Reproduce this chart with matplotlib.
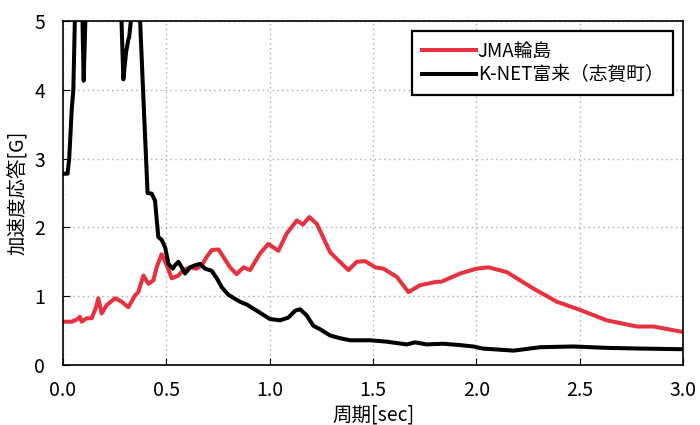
import matplotlib
matplotlib.use('Agg')
import matplotlib.pyplot as plt

plt.rcParams['font.family'] = ['Noto Sans CJK JP', 'DejaVu Sans']

# JMA輪島 (red)
red_x = [0.0, 0.042, 0.066, 0.082, 0.09, 0.115, 0.139, 0.16, 0.171, 0.187, 0.211,
         0.252, 0.284, 0.316, 0.348, 0.364, 0.389, 0.413, 0.437, 0.453, 0.477,
         0.502, 0.526, 0.558, 0.582, 0.615, 0.647, 0.671, 0.695, 0.719, 0.752,
         0.776, 0.808, 0.84, 0.873, 0.905, 0.953, 0.993, 1.042, 1.082, 1.131,
         1.16, 1.192, 1.228, 1.292, 1.332, 1.381, 1.421, 1.461, 1.51, 1.55,
         1.615, 1.671, 1.727, 1.808, 1.83, 1.921, 2.0, 2.058, 2.147, 2.276,
         2.389, 2.502, 2.63, 2.776, 2.856, 3.0]
red_y = [0.63, 0.63, 0.66, 0.70, 0.63, 0.68, 0.68, 0.84, 0.97, 0.75, 0.87,
         0.97, 0.92, 0.84, 1.01, 1.06, 1.30, 1.18, 1.23, 1.42, 1.61,
         1.45, 1.26, 1.30, 1.38, 1.42, 1.40, 1.45, 1.57, 1.67, 1.68,
         1.57, 1.42, 1.32, 1.42, 1.38, 1.62, 1.76, 1.66, 1.91, 2.10,
         2.04, 2.15, 2.05, 1.64, 1.52, 1.38, 1.50, 1.51, 1.42, 1.40,
         1.28, 1.06, 1.16, 1.21, 1.21, 1.33, 1.40, 1.42, 1.35, 1.11,
         0.92, 0.80, 0.65, 0.56, 0.56, 0.48]

# K-NET富来（志賀町） (black)
blk_x = [0.0, 0.022, 0.03, 0.042, 0.05, 0.058, 0.075, 0.093, 0.10, 0.11, 0.13,
         0.2, 0.27, 0.283, 0.292, 0.305, 0.316, 0.32, 0.326, 0.335, 0.36,
         0.373, 0.389, 0.409, 0.429, 0.445, 0.461, 0.477, 0.494, 0.51, 0.531,
         0.542, 0.558, 0.574, 0.59, 0.615, 0.639, 0.663, 0.687, 0.719, 0.744,
         0.768, 0.8, 0.856, 0.889, 0.953, 1.0, 1.05, 1.09, 1.123, 1.147,
         1.179, 1.211, 1.244, 1.292, 1.34, 1.389, 1.486, 1.566, 1.663, 1.703,
         1.76, 1.84, 1.921, 1.985, 2.03, 2.18, 2.31, 2.47, 2.63, 2.79, 3.0]
blk_y = [2.78, 2.78, 3.0, 3.7, 4.0, 5.1, 5.6, 5.2, 4.13, 5.2, 5.8,
         5.9, 5.6, 5.0, 4.15, 4.54, 4.73, 4.76, 4.93, 5.3, 5.4,
         5.0, 3.87, 2.5, 2.49, 2.39, 1.86, 1.82, 1.71, 1.47, 1.40,
         1.45, 1.50, 1.42, 1.33, 1.42, 1.45, 1.47, 1.40, 1.37, 1.26,
         1.13, 1.02, 0.92, 0.88, 0.76, 0.67, 0.65, 0.69, 0.79, 0.81,
         0.72, 0.57, 0.52, 0.43, 0.39, 0.36, 0.36, 0.34, 0.30, 0.33,
         0.30, 0.31, 0.29, 0.27, 0.24, 0.21, 0.26, 0.27, 0.25, 0.24, 0.23]

x_ticks = [0.0, 0.5, 1.0, 1.5, 2.0, 2.5, 3.0]
x_labels = ['0.0', '0.5', '1.0', '1.5', '2.0', '2.5', '3.0']
y_ticks = [0, 1, 2, 3, 4, 5]


def main():
    fig = plt.figure(figsize=(7, 4.25), dpi=100)
    ax = fig.add_axes([0.09, 0.141, 0.886, 0.81])
    ax.plot(red_x, red_y, color='#e8313f', lw=2.9, label='JMA輪島')
    ax.plot(blk_x, blk_y, color='black', lw=2.9, label='K-NET富来（志賀町）')
    ax.set_xlim(0, 3)
    ax.set_ylim(0, 5)
    ax.set_xticks(x_ticks)
    ax.set_xticklabels(x_labels)
    ax.set_yticks(y_ticks)
    ax.grid(True, linestyle=(0, (1, 2.5)), color='#aaaaaa', lw=1)
    ax.tick_params(direction='in', length=5, labelsize=14)
    ax.tick_params(axis='x', pad=11)
    ax.tick_params(axis='y', pad=13)
    for s in ax.spines.values():
        s.set_linewidth(1.2)
    ax.set_xlabel('周期[sec]', fontsize=14, labelpad=2)
    ax.set_ylabel('加速度応答[G]', fontsize=14, labelpad=4)
    leg = ax.legend(loc='upper right', fontsize=13.5, fancybox=False,
                    framealpha=1, edgecolor='black', borderaxespad=0.55,
                    handlelength=2.9, handletextpad=0.1, labelspacing=0.15,
                    borderpad=0.5)
    leg.get_frame().set_linewidth(1.6)
    fig.savefig('out.png', dpi=100)


if __name__ == '__main__':
    main()
